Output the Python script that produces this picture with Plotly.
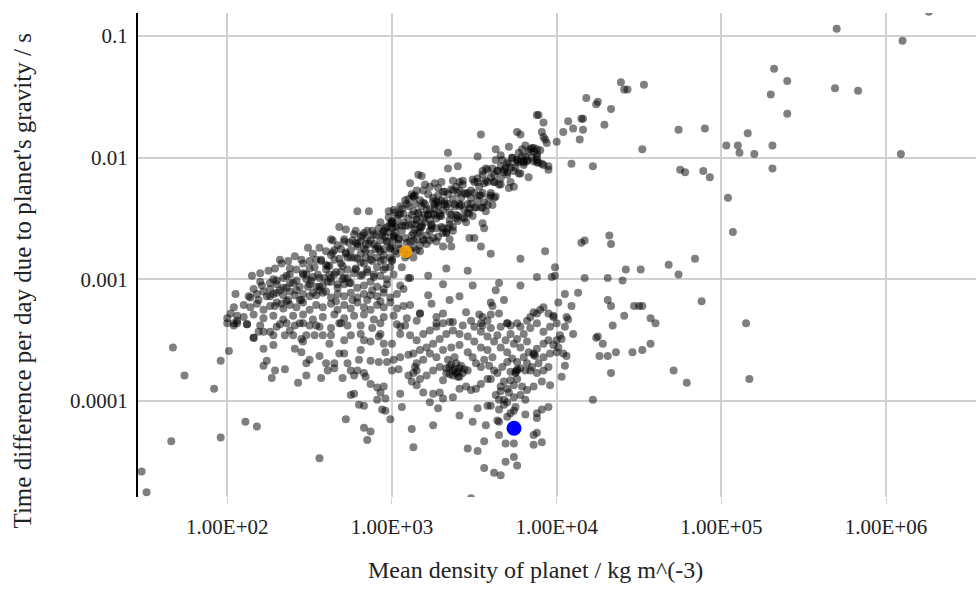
import numpy as np
import plotly.graph_objects as go

# Values, stored as (log10 density [kg m^-3], log10 time difference [s])
outliers_high = [(5.70,-0.94),(6.10,-1.04),(6.26,-0.80),(5.32,-1.27),(5.40,-1.37),(5.30,-1.48),(5.69,-1.43),(5.83,-1.45),
    (5.40,-1.64),(4.90,-1.76),(5.16,-1.80),(5.03,-1.90),(5.10,-1.90),(5.11,-1.96),(5.20,-1.97),(5.31,-1.90),(6.09,-1.97),
    (5.31,-2.09),(4.89,-2.11),(4.93,-2.16),(5.04,-2.33),(5.07,-2.61),(4.84,-2.83),(4.88,-3.18),(5.15,-3.36),(5.17,-3.82),
    (4.79,-3.85),(4.74,-1.77),(4.75,-2.10),(4.78,-2.12),(4.52,-1.93),(4.53,-1.40),(4.39,-1.38),(4.41,-1.44),(4.43,-1.44),
    (4.18,-1.51),(4.24,-1.56),(4.25,-1.54),(4.33,-1.60),(4.29,-1.73),(4.16,-1.68),(4.15,-1.68),(4.07,-1.70),(4.10,-1.76),
    (4.16,-1.77),(4.04,-1.79),(4.14,-1.85),(4.00,-1.87),(4.09,-2.05),(4.22,-2.07)]

band_top = [(3.88,-1.65),(3.89,-1.65),(3.92,-1.71),(3.91,-1.79),(3.92,-1.83),(3.93,-1.85),(3.94,-1.88),(3.54,-1.81),
    (3.76,-1.79),(3.78,-1.81),(3.71,-1.91),(3.63,-1.93),(3.81,-1.90),(3.84,-1.93),(3.86,-1.95),(3.88,-1.97),(3.34,-1.96),
    (3.52,-1.99),(3.66,-1.98),(3.63,-2.02),(3.76,-2.02),(3.78,-2.03),(3.81,-1.99),(3.82,-2.02),(3.88,-1.99),(3.88,-2.02),
    (3.71,-2.05),(3.69,-2.08),(3.80,-2.06),(3.91,-2.05),(3.95,-2.07),(3.34,-2.09),(3.40,-2.07),(3.57,-2.09)]

band_mid = [(3.18,-2.15),(3.58,-2.10),(3.62,-2.14),(3.66,-2.17),(3.70,-2.14),(3.72,-2.08),(3.76,-2.04),(3.80,-2.04),
    (3.88,-2.04),(3.92,-2.06),(3.95,-2.10),(3.74,-2.24),(3.28,-2.25),(3.32,-2.28),(3.37,-2.19),(3.41,-2.20),(3.41,-2.27),
    (3.48,-2.27),(3.53,-2.24),(3.55,-2.29),(3.60,-2.31),(3.58,-2.39),(3.13,-2.32),(3.17,-2.35),(3.20,-2.38),(3.26,-2.38),
    (3.32,-2.36),(3.37,-2.34),(3.41,-2.38),(3.44,-2.43),(3.47,-2.46),(3.52,-2.35),(3.54,-2.41),(3.21,-2.43),(3.25,-2.46),
    (3.29,-2.46),(3.31,-2.43),(3.35,-2.45),(3.39,-2.47),(3.15,-2.51),(3.19,-2.50),(3.23,-2.51),(3.27,-2.50),(3.55,-2.54),
    (3.56,-2.58),(3.30,-2.57),(3.34,-2.58),(3.37,-2.60),(3.31,-2.62),(3.33,-2.61),(3.13,-2.62),(3.17,-2.61),(3.21,-2.64),
    (3.19,-2.68),(3.23,-2.68),(3.27,-2.69),(3.47,-2.66),(3.50,-2.66),(3.31,-2.73),(3.36,-2.73),(3.54,-2.73),(3.60,-2.79),
    (3.15,-2.76),(3.13,-2.82),(3.17,-2.77),(3.33,-2.91),(3.46,-2.93),(3.22,-2.97),(3.11,-2.99),(3.31,-3.04),(3.49,-3.05),
    (3.65,-3.03),(3.78,-3.05),(3.63,-3.09),(3.22,-3.13),(3.24,-3.20),(3.41,-3.14),(3.35,-3.17),(3.68,-3.17),(3.60,-3.19),
    (3.61,-3.22),(3.17,-3.28),(3.27,-3.31),(3.27,-3.36),(3.31,-3.28),(3.45,-3.27),(3.53,-3.29),(3.55,-3.31),(3.60,-3.29),
    (3.65,-3.28),(3.86,-3.27),(3.88,-3.28),(3.90,-3.25),(3.92,-3.23),(3.95,-3.28),(3.98,-3.31),(3.82,-3.34),(3.84,-3.31),
    (3.48,-3.34),(3.54,-3.36),(3.58,-3.34),(3.70,-3.36),(3.72,-3.38),(3.76,-3.36),(3.78,-3.39),(3.35,-3.35),
    (3.22,-2.30),(3.25,-2.33),(3.28,-2.31),(3.34,-2.30),(3.36,-2.26),(3.39,-2.24),(3.43,-2.22),(3.45,-2.30),(3.48,-2.33),
    (3.50,-2.20),(3.52,-2.17),(3.55,-2.14),(3.57,-2.19),(3.60,-2.16),(3.62,-2.20),(3.64,-2.11),(3.66,-2.07),(3.68,-2.10),
    (3.70,-2.04),(3.73,-2.00),(3.75,-2.08),(3.77,-1.96),(3.79,-1.99),(3.83,-1.95),(3.85,-2.00),(3.86,-1.92),(3.90,-1.94),
    (3.18,-2.40),(3.23,-2.42),(3.27,-2.36),(3.33,-2.40),(3.38,-2.40),(3.42,-2.33),(3.46,-2.38),(3.40,-2.52),(3.44,-2.50),
    (3.24,-2.58),(3.28,-2.65),(3.35,-2.67),(3.16,-2.45),(3.20,-2.22),(3.30,-2.20),(3.15,-2.27)]

band_upper_dense = [(3.00,-2.54),(3.01,-2.65),(2.99,-2.74),(3.00,-2.84),(3.03,-2.56),(3.04,-2.67),(3.02,-2.77),
    (3.07,-2.46),(3.06,-2.56),(3.08,-2.66),(3.07,-2.76),(3.10,-2.56),(3.11,-2.69),(3.09,-2.80),(3.13,-2.44),(3.14,-2.55),
    (3.12,-2.64),(3.13,-2.74),(3.16,-2.46),(3.17,-2.57),(3.15,-2.67),(3.19,-2.37),(3.20,-2.47),(3.18,-2.57),(3.19,-2.67),
    (3.22,-2.47),(3.23,-2.60),(3.21,-2.71),(3.25,-2.36),(3.26,-2.47),(3.24,-2.56),(3.25,-2.66),(3.28,-2.37),(3.29,-2.48),
    (3.27,-2.58),(3.31,-2.28),(3.32,-2.38),(3.30,-2.48),(3.31,-2.58),(3.34,-2.38),(3.35,-2.51),(3.33,-2.62),(3.37,-2.27),
    (3.38,-2.38),(3.36,-2.47),(3.37,-2.57),(3.40,-2.29),(3.41,-2.40),(3.39,-2.50),(3.43,-2.19),(3.44,-2.29),(3.42,-2.39),
    (3.43,-2.49),(3.46,-2.29),(3.47,-2.42),(3.45,-2.53),(3.49,-2.18),(3.50,-2.29),(3.48,-2.38),(3.49,-2.48),(3.52,-2.20),
    (3.53,-2.31),(3.51,-2.41),(3.55,-2.11),(3.56,-2.21),(3.54,-2.31),(3.55,-2.41),(3.58,-2.20),(3.59,-2.33),(3.57,-2.44),
    (3.61,-2.09),(3.62,-2.20),(3.60,-2.29),(3.61,-2.39),(3.64,-2.11),(3.65,-2.22),(3.63,-2.32),(3.67,-2.02),(3.68,-2.12),
    (3.66,-2.22),(3.70,-2.12),(3.71,-2.25),(3.73,-2.00),(3.74,-2.11),(3.72,-2.20),(3.76,-2.02),(3.77,-2.13),(3.79,-1.93),
    (3.80,-2.03),(3.78,-2.13),(3.82,-2.03),(3.83,-2.16),(3.85,-1.92),(3.86,-2.03),(3.88,-1.93),(3.89,-2.04),
    (3.10,-2.34),(3.14,-2.31),(3.19,-2.27),(3.23,-2.24),(3.26,-2.21),(3.05,-2.40),(3.02,-2.45),(3.35,-2.55),(3.40,-2.48),
    (3.46,-2.45),(3.50,-2.41),(3.56,-2.37),(3.62,-2.33)]

band_right = [(4.15,-2.70),(4.17,-2.68),(4.32,-2.64),(4.33,-2.71),(3.93,-2.77),(3.78,-2.83),(3.99,-2.90),(3.88,-2.98),
    (3.97,-2.98),(3.99,-2.97),(4.17,-2.99),(4.31,-2.99),(4.40,-3.01),(4.42,-2.92),(4.51,-2.92),(4.68,-2.88),(4.74,-2.96),
    (4.13,-3.11),(4.05,-3.12),(4.01,-3.19),(4.09,-3.22),(4.31,-3.17),(4.33,-3.22),(4.47,-3.22),(4.50,-3.22),(4.52,-3.22),
    (4.41,-3.30),(4.57,-3.32),(4.60,-3.36),(4.34,-3.38),(4.06,-3.31),(4.07,-3.33),(3.98,-3.30),(4.24,-3.48),(4.25,-3.47),
    (4.28,-3.53),(4.26,-3.63),(4.31,-3.63),(4.36,-3.60),(4.46,-3.60),(4.52,-3.58),(4.57,-3.53),(4.33,-3.77),(4.71,-3.75),
    (4.22,-3.99)]

band_core = [(2.79,-2.44),(2.86,-2.44),(2.68,-2.57),(2.72,-2.59),(2.64,-2.68),(2.71,-2.69),(2.76,-2.68),(2.81,-2.65),
    (2.81,-2.69),(3.11,-2.21),(3.16,-2.14),(3.13,-2.32),(3.09,-2.38),(3.14,-2.38),(2.98,-2.44),(3.01,-2.43),(3.05,-2.46),
    (3.03,-2.50),(2.99,-2.54),(2.97,-2.57),(2.95,-2.60),(3.02,-2.57),(3.07,-2.53),(3.12,-2.47),(3.15,-2.51),(2.87,-2.68),
    (2.90,-2.64),(2.93,-2.68),(2.97,-2.69),(3.01,-2.67),(2.91,-2.73),(2.95,-2.75),(3.00,-2.73),(3.04,-2.71),(3.03,-2.79),
    (2.99,-2.82),(2.95,-2.84),(2.91,-2.82),(2.87,-2.79),(2.84,-2.76),(3.08,-2.82),(3.06,-2.90),(3.10,-2.99),(3.07,-3.08),
    (3.17,-3.28),(2.32,-2.84),(2.38,-2.91),(2.36,-2.97),(2.20,-3.02),(2.13,-3.14),(2.04,-3.23),(2.00,-3.32),(2.04,-3.36),
    (2.12,-3.37),(2.06,-3.30),(2.46,-2.87),(2.50,-2.91),(2.54,-2.84),(2.57,-2.84),(2.60,-2.88),(2.65,-2.84),(2.69,-2.87),
    (2.73,-2.82),(2.75,-2.76),(2.79,-2.83),(2.83,-2.87),(2.87,-2.84),(2.91,-2.90),(2.95,-2.92),(2.99,-2.90),(2.69,-2.75),
    (2.72,-2.79),(2.65,-2.76),(2.63,-2.80),(2.79,-2.73),(2.84,-2.71),(2.81,-2.79),
    (2.92,-2.58),(2.94,-2.62),(2.96,-2.65),(2.98,-2.61),(3.00,-2.58),(3.02,-2.62),(3.04,-2.66),(3.06,-2.60),(3.08,-2.56),
    (3.10,-2.50),(3.12,-2.55),(3.14,-2.59),(3.16,-2.62),(3.18,-2.56),(3.20,-2.53),(3.22,-2.47),(3.24,-2.55),(3.26,-2.42),
    (3.28,-2.40),(3.30,-2.35),(2.98,-2.49),(3.00,-2.52),(3.04,-2.47),(3.06,-2.42),(3.08,-2.35),(3.10,-2.40),(3.12,-2.30),
    (3.05,-2.75),(3.09,-2.70),(3.13,-2.68),(3.17,-2.72),(3.11,-2.76),(2.93,-2.77),(2.89,-2.71),(2.85,-2.66),(2.88,-2.60),
    (2.83,-2.62),(2.78,-2.70),(2.77,-2.63),
    (2.46,-2.95),(2.52,-2.98),(2.56,-2.99),(2.61,-3.02),(2.65,-2.96),(2.69,-2.94),(2.73,-2.99),(2.77,-2.95),(2.81,-2.97),
    (2.85,-2.94),(2.89,-2.98),(2.93,-2.97),(2.97,-3.00),(3.01,-2.96),(2.50,-3.04),(2.54,-3.06),(2.58,-3.05),(2.63,-3.02),
    (2.67,-3.07),(2.71,-3.04),(2.75,-3.03),(2.79,-3.07),(2.83,-3.05),(2.87,-3.02),(2.91,-3.06),(2.95,-3.08),(2.42,-3.01),
    (2.38,-3.03),(2.34,-3.07),(2.30,-3.04),(2.26,-3.08),(2.22,-3.10),(2.18,-3.12),(2.14,-3.15),(2.26,-3.14),(2.30,-3.11),
    (2.34,-3.13),(2.38,-3.10),(2.42,-3.09),(2.46,-3.12),(2.50,-3.14),(2.54,-3.13),(2.58,-3.11),(2.63,-3.15),(2.67,-3.12),
    (2.71,-3.14),(2.75,-3.11),(2.79,-3.15),(2.83,-3.12),(2.87,-3.13),(2.91,-3.14),(2.95,-3.11),(2.99,-3.15),(3.03,-3.12),
    (2.14,-3.23),(2.18,-3.20),(2.22,-3.25),(2.26,-3.22),(2.30,-3.19),(2.34,-3.24),(2.38,-3.21),(2.42,-3.23),(2.46,-3.19),
    (2.50,-3.25),(2.54,-3.21),(2.58,-3.23),(2.63,-3.20),(2.67,-3.25),(2.71,-3.21),(2.75,-3.24),(2.79,-3.19),(2.83,-3.23),
    (2.87,-3.25),(2.91,-3.21),(2.95,-3.23),(2.99,-3.19),(3.03,-3.24),(3.07,-3.22),(3.11,-3.21),(2.02,-3.28),(2.10,-3.31),
    (2.16,-3.29),(2.22,-3.32),(2.28,-3.30),(2.34,-3.33),(2.40,-3.30),(2.46,-3.29),(2.52,-3.33),(2.58,-3.31),(2.65,-3.29),
    (2.71,-3.32),(2.77,-3.30),(2.83,-3.29),(2.89,-3.33),(2.95,-3.31),(3.01,-3.30),(3.09,-3.32),(3.15,-3.34),(2.06,-3.36),
    (2.20,-3.38),(2.32,-3.37),(2.44,-3.36),(2.56,-3.39),(2.69,-3.36),(2.81,-3.38),(2.93,-3.36),(3.05,-3.39),
    (2.48,-3.00),(2.60,-2.92),(2.70,-3.00),(2.78,-2.91),(2.88,-3.09),(2.97,-3.04),(2.56,-3.09),(2.44,-3.17),(2.36,-3.18),
    (2.28,-3.00),(2.66,-3.18),(2.76,-3.17),(2.85,-3.17),(2.93,-3.18),(3.05,-3.05),(2.62,-2.96)]

band_core_dense = [(2.41,-2.81),(2.42,-2.92),(2.40,-3.03),(2.41,-3.13),(2.45,-2.84),(2.46,-2.96),(2.44,-3.06),(2.45,-3.17),
    (2.49,-2.74),(2.50,-2.85),(2.48,-2.96),(2.49,-3.06),(2.52,-2.79),(2.53,-2.90),(2.51,-3.01),(2.52,-3.11),(2.56,-2.74),
    (2.57,-2.85),(2.55,-2.96),(2.56,-3.06),(2.60,-2.77),(2.61,-2.89),(2.59,-2.99),(2.60,-3.10),(2.63,-2.67),(2.64,-2.78),
    (2.62,-2.89),(2.63,-2.99),(2.67,-2.72),(2.68,-2.83),(2.66,-2.94),(2.67,-3.04),(2.71,-2.67),(2.72,-2.78),(2.70,-2.89),
    (2.71,-2.99),(2.74,-2.70),(2.75,-2.82),(2.73,-2.92),(2.74,-3.03),(2.78,-2.60),(2.79,-2.71),(2.77,-2.82),(2.78,-2.92),
    (2.82,-2.64),(2.83,-2.75),(2.81,-2.86),(2.82,-2.96),(2.85,-2.60),(2.86,-2.71),(2.84,-2.82),(2.85,-2.92),(2.89,-2.63),
    (2.90,-2.75),(2.88,-2.85),(2.89,-2.96),(2.93,-2.53),(2.94,-2.64),(2.92,-2.75),(2.93,-2.85),(2.96,-2.58),(2.97,-2.69),
    (2.95,-2.80),(2.96,-2.90),(3.00,-2.53),(3.01,-2.64),(2.99,-2.75),(3.00,-2.85),
    (2.05,-3.12),(2.10,-3.21),(2.15,-2.97),(2.16,-3.08),(2.20,-2.95),(2.21,-3.05),(2.19,-3.17),(2.25,-2.93),(2.26,-3.03),
    (2.24,-3.14),(2.29,-2.91),(2.30,-3.01),(2.28,-3.12),(2.29,-3.22),(2.33,-2.87),(2.34,-2.99),(2.32,-3.09),(2.33,-3.20),
    (2.37,-2.85),(2.38,-2.96),(2.36,-3.07),(2.37,-3.17)]

band_low = [(1.67,-3.56),(1.74,-3.79),(1.92,-3.90),(1.96,-3.67),(2.01,-3.59),(2.11,-4.17),(2.18,-4.21),(1.66,-4.33),
    (1.96,-4.30),(1.48,-4.58),(1.51,-4.75),(2.56,-4.47),(2.72,-4.15),(2.83,-4.22),(2.87,-4.25),(2.85,-4.32),(2.75,-3.95),
    (2.77,-3.94),(2.80,-4.03),(2.83,-4.04),(2.94,-4.07),(2.96,-4.08),(2.99,-4.15),(3.06,-4.05),(2.87,-3.86),(2.91,-3.89),
    (2.93,-3.93),(2.95,-3.88),(2.91,-3.99),(2.96,-3.98),(3.05,-3.94),(2.43,-3.85),(2.48,-3.79),(2.57,-3.81),(2.27,-3.81),
    (2.29,-3.75),(2.35,-3.74),(2.22,-3.71),(2.24,-3.67),(2.22,-3.57),(2.28,-3.54),(2.16,-3.48),(2.12,-3.37),(2.41,-3.57),
    (2.45,-3.60),(2.50,-3.66),(2.48,-3.69),(2.56,-3.63),(2.60,-3.69),(2.65,-3.69),(2.61,-3.75),(2.65,-3.73),(2.70,-3.81),
    (2.71,-3.61),(2.73,-3.69),(2.75,-3.75),(2.77,-3.79),(2.79,-3.75),(2.83,-3.77),(2.84,-3.80),(2.80,-3.66),(2.87,-3.67),
    (2.92,-3.68),(2.97,-3.68),(3.01,-3.66),(3.05,-3.64),(3.10,-3.62),(3.00,-3.75),(3.04,-3.74),(3.10,-3.79),(3.12,-3.84),
    (3.15,-3.75),(3.14,-3.72),(2.88,-3.40),(2.93,-3.45),(2.96,-3.60),(3.00,-3.53),(3.03,-3.37),(3.08,-3.38),(3.11,-3.46),
    (3.05,-3.45),(2.68,-3.61),(2.71,-3.50),(2.75,-3.46),(2.81,-3.45),(2.83,-3.50),(2.81,-3.58),(2.87,-3.51),(2.92,-3.47),
    (2.95,-3.53),(2.62,-3.53),(2.58,-3.46),(2.53,-3.46),(2.48,-3.46),(2.46,-3.51),(2.45,-3.49),(2.41,-3.38),(2.36,-3.36),
    (2.30,-3.39),(2.26,-3.43),(2.22,-3.43),(2.19,-3.43),(2.16,-3.48),(2.28,-3.46),(2.35,-3.46),(2.40,-3.46),(2.38,-3.42),
    (2.63,-3.40),(2.68,-3.36),(2.73,-3.38),(2.63,-3.46),(2.54,-3.38),(2.50,-3.38),(2.46,-3.36),(2.00,-3.36),(2.04,-3.38),
    (2.06,-3.34)]

rocky_cluster = [(3.95,-4.05),(3.91,-4.07),(3.88,-4.10),(3.88,-4.14),(3.81,-4.11),(3.88,-4.26),(3.86,-4.28),(3.91,-4.34),
    (3.86,-4.36),(3.74,-4.35),(3.69,-4.35),(3.74,-4.46),(3.76,-4.53),(3.69,-4.50),(3.62,-4.59),(3.66,-4.61),(3.56,-4.55),
    (3.46,-4.39),(3.52,-4.41),(3.56,-4.33),(3.65,-4.28),(3.57,-4.20),(3.49,-4.17),(3.41,-4.12),(3.52,-4.06),(3.58,-4.04),
    (3.60,-4.04),(3.64,-4.16),(3.65,-4.17),(3.70,-4.13),(3.72,-4.10),(3.74,-4.08),(3.75,-4.05),(3.65,-4.07),(3.68,-4.03),
    (3.70,-4.01),(3.25,-4.20),(3.12,-4.23),(3.13,-4.38),(3.48,-4.80),(3.81,-3.99),(3.78,-3.95),(3.74,-3.97),(3.71,-3.93),
    (3.66,-3.92),(3.63,-3.95),(3.65,-3.99),(3.68,-3.99),(3.96,-3.87),(3.91,-3.84),(3.86,-3.88),(3.82,-3.91),(3.79,-3.88),
    (4.03,-3.80),(4.05,-3.71),(4.06,-3.63),(4.04,-3.61),(4.01,-3.56),(4.00,-3.50),(4.02,-3.46),(4.05,-3.39),(4.10,-3.45),
    (4.03,-3.49),(3.95,-3.72),(3.92,-3.75),(3.88,-3.77),(3.84,-3.75),(3.82,-3.69),(3.76,-3.75),(3.75,-3.77),(3.72,-3.83),
    (3.68,-3.84),(3.66,-3.88),(3.70,-3.90),(3.74,-3.87),(3.76,-3.82),(3.58,-3.82),(3.54,-3.86),(3.51,-3.90),(3.48,-3.91),
    (3.45,-3.88),(3.41,-3.90),(3.37,-3.97),(3.31,-3.98),(3.29,-3.93),(3.25,-3.94),(3.23,-4.01),(3.28,-4.06),(3.19,-3.93),
    (3.15,-3.87),
    (3.37,-3.75),(3.39,-3.77),(3.41,-3.73),(3.40,-3.80),(3.35,-3.72),(3.43,-3.77),(3.46,-3.75),(3.33,-3.77),(3.31,-3.83),
    (3.34,-3.66),(3.38,-3.64),(3.29,-3.72),(3.25,-3.75),(3.21,-3.79),(3.17,-3.82),(3.13,-3.77),(3.15,-3.69),(3.19,-3.66),
    (3.23,-3.61),(3.27,-3.64),(3.31,-3.58),(3.36,-3.56),(3.41,-3.54),(3.46,-3.60),(3.49,-3.64),(3.51,-3.69),(3.54,-3.72),
    (3.56,-3.66),(3.59,-3.71),(3.62,-3.75),(3.61,-3.64),(3.58,-3.58),(3.54,-3.56),(3.50,-3.51),(3.46,-3.47),(3.41,-3.45),
    (3.37,-3.42),(3.33,-3.45),(3.29,-3.49),(3.25,-3.53),(3.21,-3.56),(3.17,-3.58),(3.13,-3.61),(3.15,-3.50),(3.19,-3.45),
    (3.23,-3.42),(3.27,-3.39),(3.31,-3.36),(3.37,-3.35),(3.43,-3.38),(3.50,-3.39),(3.54,-3.43),(3.58,-3.47),(3.62,-3.51),
    (3.66,-3.56),(3.70,-3.60),(3.73,-3.65),(3.76,-3.68),(3.80,-3.64),(3.83,-3.60),(3.86,-3.62),(3.88,-3.57),(3.92,-3.53),
    (3.95,-3.50),(3.98,-3.54),(4.00,-3.60),(3.96,-3.61),(3.92,-3.64),(3.89,-3.69),(3.85,-3.72),(3.81,-3.75),(3.70,-3.68),
    (3.67,-3.72),(3.64,-3.77),(3.60,-3.82),(3.78,-3.73),(3.72,-3.76),(3.66,-3.39),(3.70,-3.36),(3.72,-3.45),(3.76,-3.49),
    (3.80,-3.45),(3.84,-3.40),(3.88,-3.36),(3.92,-3.43),(3.96,-3.39),(4.00,-3.36),(3.82,-3.51),(3.78,-3.56),(3.74,-3.53),
    (3.69,-3.50),(3.64,-3.46),(3.60,-3.40),(3.55,-3.38),
    (3.36,-3.70),(3.38,-3.74),(3.40,-3.76),(3.35,-3.78),(3.42,-3.71),(3.44,-3.74),(3.37,-3.79),(3.39,-3.69),(3.33,-3.73),
    (3.41,-3.80),(3.75,-3.76),(3.76,-3.74),(3.86,-3.61),(3.87,-3.63)]

jupiter = [(3.083, -2.773)]
earth = [(3.741, -4.224)]

groups = [outliers_high, band_top, band_mid, band_upper_dense, band_right, band_core, band_core_dense, band_low, rocky_cluster]
pts = [p for g in groups for p in g]
dens = np.power(10.0, [p[0] for p in pts])
tdiff = np.power(10.0, [p[1] for p in pts])

fig = go.Figure()
fig.add_trace(go.Scatter(x=dens, y=tdiff, mode="markers",
                         marker=dict(size=8, color="rgba(0,0,0,0.5)", line=dict(width=0)),
                         showlegend=False, hoverinfo="x+y"))
fig.add_trace(go.Scatter(x=np.power(10.0, [p[0] for p in jupiter]), y=np.power(10.0, [p[1] for p in jupiter]),
                         mode="markers", marker=dict(size=13, color="rgba(255,165,0,0.85)", line=dict(width=0)),
                         showlegend=False))
fig.add_trace(go.Scatter(x=np.power(10.0, [p[0] for p in earth]), y=np.power(10.0, [p[1] for p in earth]),
                         mode="markers", marker=dict(size=15, color="#0000ff", line=dict(width=0)),
                         showlegend=False))

x_ticks = [1e2, 1e3, 1e4, 1e5, 1e6]
x_labels = ["1.00E+02", "1.00E+03", "1.00E+04", "1.00E+05", "1.00E+06"]
y_ticks = [1e-4, 1e-3, 1e-2, 1e-1]
y_labels = ["0.0001", "0.001", "0.01", "0.1"]

font_family = "Liberation Serif"
fig.update_layout(
    width=976, height=602, autosize=False,
    margin=dict(l=138, r=0, t=13, b=105),
    paper_bgcolor="white", plot_bgcolor="white",
    font=dict(family=font_family, color="#222222"),
    xaxis=dict(type="log", range=[1.458, 6.546], tickvals=x_ticks, ticktext=x_labels,
               showgrid=True, gridcolor="#d0d0d0", gridwidth=1.5, zeroline=False, showline=False,
               ticks="outside", ticklen=6, tickcolor="#d0d0d0", tickwidth=1,
               tickfont=dict(family=font_family, size=21, color="#222222"), ticklabelstandoff=5),
    yaxis=dict(type="log", range=[-4.789, -0.811], tickvals=y_ticks, ticktext=y_labels,
               showgrid=True, gridcolor="#d0d0d0", gridwidth=1.5, zeroline=False,
               showline=True, linecolor="black", linewidth=2, ticks="",
               tickfont=dict(family=font_family, size=21, color="#222222"), ticklabelstandoff=4),
    annotations=[
        dict(text="Mean density of planet / kg m^(-3)", xref="paper", yref="paper",
             x=0.474, y=-0.151, xanchor="center", yanchor="middle", showarrow=False,
             font=dict(family=font_family, size=24, color="#222222")),
        dict(text="Time difference per day due to planet's gravity / s", xref="paper", yref="paper",
             x=-0.138, y=0.446, xanchor="center", yanchor="middle", textangle=-90, showarrow=False,
             font=dict(family=font_family, size=25, color="#222222")),
    ],
)

fig.write_html("out.html")
